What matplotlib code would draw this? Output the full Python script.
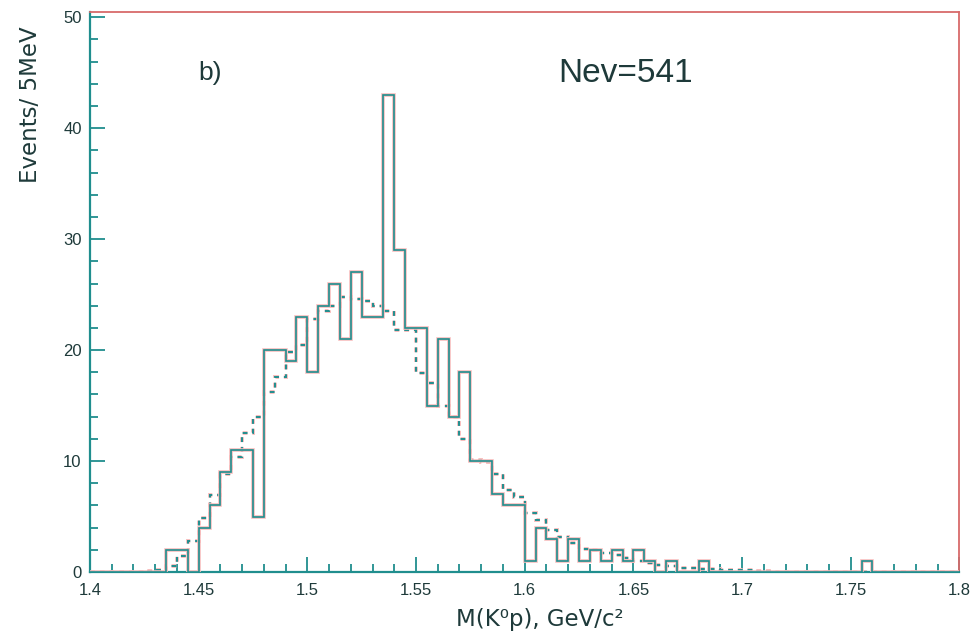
import numpy as np
import matplotlib
matplotlib.use("Agg")
import matplotlib.pyplot as plt
import matplotlib.patheffects as pe
from matplotlib.ticker import MultipleLocator

plt.rcParams['font.family'] = ['Liberation Sans', 'DejaVu Sans']

# 5 MeV bins from 1.40 to 1.80 GeV
bin_lo = 1.40
bin_hi = 1.80
n_bins = 80

# measured events per bin (solid histogram)
events = [0, 0, 0, 0, 0, 0, 0, 2, 2, 0,
          4, 6, 9, 11, 11, 5, 20, 20, 19, 23,
          18, 24, 26, 21, 27, 23, 23, 43, 29, 22,
          22, 15, 21, 14, 18, 10, 10, 7, 6, 6,
          1, 4, 3, 1, 3, 1, 2, 1, 2, 1,
          2, 1, 0, 1, 0, 0, 1, 0, 0, 0,
          0, 0, 0, 0, 0, 0, 0, 0, 0, 0,
          0, 1, 0, 0, 0, 0, 0, 0, 0, 0]

# background shape (dashed histogram)
background = [0, 0, 0, 0, 0, 0.1, 0.2, 0.5, 1.4, 2.8,
              4.9, 6.9, 8.8, 10.4, 12.5, 14.0, 16.2, 17.6, 19.8, 20.5,
              22.8, 23.5, 24.0, 24.8, 24.6, 24.4, 24.0, 23.5, 21.8, 21.8,
              17.9, 17.0, 15.0, 14.0, 12.0, 10.1, 9.9, 8.8, 7.4, 6.8,
              5.3, 4.7, 3.8, 3.2, 2.6, 2.1, 2.0, 1.7, 1.5, 1.3,
              1.0, 0.8, 0.6, 0.5, 0.4, 0.35, 0.3, 0.25, 0.2, 0.2,
              0.15, 0.1, 0.1, 0, 0, 0, 0, 0, 0, 0,
              0, 0, 0, 0, 0, 0, 0, 0, 0, 0]

x_ticks = [1.4, 1.45, 1.5, 1.55, 1.6, 1.65, 1.7, 1.75, 1.8]
x_tick_labels = ["1.4", "1.45", "1.5", "1.55", "1.6", "1.65", "1.7", "1.75", "1.8"]
y_ticks = [0, 10, 20, 30, 40, 50]

ink = "#208e8e"
halo = "#f7bcbc"
label_ink = "#1e3a3a"

edges = np.linspace(bin_lo, bin_hi, n_bins + 1)

fig = plt.figure(figsize=(9.78, 6.35), dpi=100)
ax = fig.add_axes([0.092, 0.0992, 0.889, 0.8824])

glow = lambda w: [pe.Stroke(linewidth=w + 1.4, foreground=halo), pe.Normal()]

ax.stairs(background, edges, color=ink, lw=1.4, linestyle=(0, (2.5, 2.5)),
          path_effects=glow(1.4), zorder=2)
ax.stairs(events, edges, color=ink, lw=1.2, path_effects=glow(1.2), zorder=3)

ax.set_xlim(bin_lo, bin_hi)
ax.set_ylim(0, 50.5)

ax.set_xticks(x_ticks)
ax.set_xticklabels(x_tick_labels)
ax.set_yticks(y_ticks)
ax.xaxis.set_minor_locator(MultipleLocator(0.01))
ax.yaxis.set_minor_locator(MultipleLocator(2))
ax.tick_params(which='both', direction='in', color=ink, width=1.3,
               labelsize=12, labelcolor=label_ink, top=False, right=False)
ax.tick_params(which='major', length=11)
ax.tick_params(which='minor', length=5.5)
ax.tick_params(axis='x', pad=8)
ax.tick_params(axis='y', pad=6)

for side in ['left', 'bottom']:
    ax.spines[side].set_color(ink)
    ax.spines[side].set_linewidth(1.6)
for side in ['top', 'right']:
    ax.spines[side].set_color('#d86a6a')
    ax.spines[side].set_linewidth(1.3)

ax.text(0.125, 0.89, "b)", transform=ax.transAxes, fontsize=19,
        color=label_ink, ha='left', va='center')
ax.text(0.539, 0.89, "Nev=541", transform=ax.transAxes, fontsize=24,
        color=label_ink, ha='left', va='center')

fig.text(0.031, 0.835, "Events/ 5MeV", rotation=90, fontsize=16.5,
         family=['DejaVu Sans'], color=label_ink, ha='center', va='center')
fig.text(0.552, 0.024, "M(K⁰p), GeV/c²", fontsize=16.5,
         family=['DejaVu Sans'], color=label_ink, ha='center', va='center')

fig.savefig("out.png", dpi=100)
